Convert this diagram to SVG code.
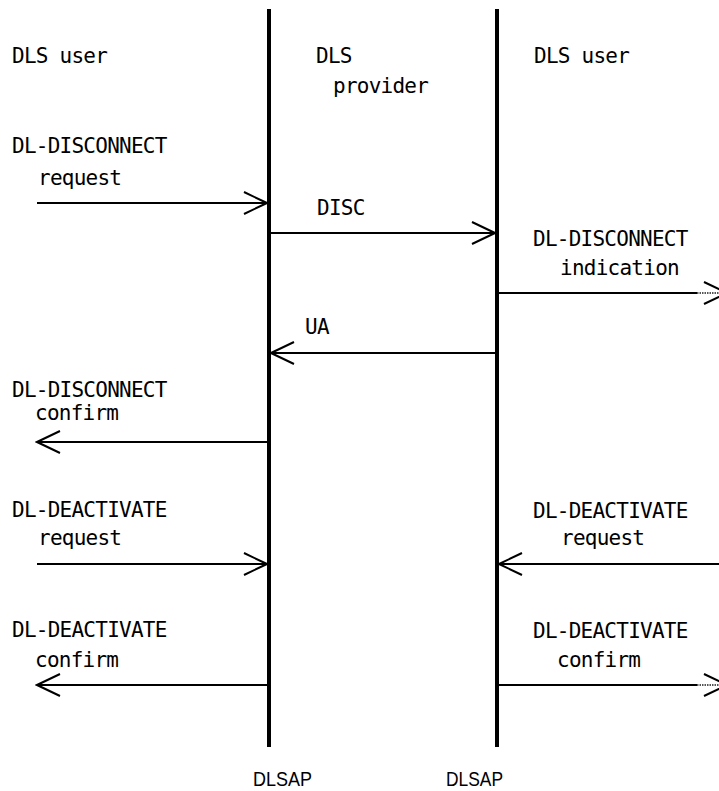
<svg xmlns="http://www.w3.org/2000/svg" width="719" height="791" viewBox="0 0 719 791">
  <style>
    .t { font-family: "DejaVu Sans Mono", "Liberation Mono", monospace; font-size: 21px; letter-spacing: -0.75px; fill: #000; }
    .sap { font-family: "Liberation Sans", Arial, sans-serif; font-size: 21px; fill: #000; }
    .life { stroke: #000; stroke-width: 4; fill: none; }
    .msg { stroke: #000; stroke-width: 2; fill: none; }
    .dot { stroke: #555; stroke-width: 2; stroke-dasharray: 1.5 1; fill: none; }
  </style>
  <defs>
    <marker id="open" viewBox="-24 -12 26 24" markerWidth="26" markerHeight="24" refX="0" refY="0" orient="auto" markerUnits="userSpaceOnUse">
      <path d="M-23,-11 L0,0 L-23,11" fill="none" stroke="#000" stroke-width="2"/>
    </marker>
  </defs>
  <rect width="719" height="791" fill="#fff"/>

  <!-- service access point lifelines -->
  <g id="lifeline-left">
    <line class="life" x1="269" y1="9" x2="269" y2="747"/>
    <text class="sap" x="253" y="786" textLength="59" lengthAdjust="spacingAndGlyphs">DLSAP</text>
  </g>
  <g id="lifeline-right">
    <line class="life" x1="497" y1="9" x2="497" y2="747"/>
    <text class="sap" x="446" y="786" textLength="57" lengthAdjust="spacingAndGlyphs">DLSAP</text>
  </g>

  <!-- column headings -->
  <g id="user-left"><text class="t" x="12" y="63">DLS user</text></g>
  <g id="provider"><text class="t" x="316" y="63">DLS</text><text class="t" x="333" y="93">provider</text></g>
  <g id="user-right"><text class="t" x="534" y="63">DLS user</text></g>

  <!-- primitive labels -->
  <g id="disc-request"><text class="t" x="12" y="153">DL-DISCONNECT</text><text class="t" x="38" y="185">request</text></g>
  <g id="disc-frame"><text class="t" x="317" y="215">DISC</text></g>
  <g id="disc-indication"><text class="t" x="533" y="246">DL-DISCONNECT</text><text class="t" x="560" y="275">indication</text></g>
  <g id="ua-frame"><text class="t" x="305" y="334">UA</text></g>
  <g id="disc-confirm"><text class="t" x="12" y="397">DL-DISCONNECT</text><text class="t" x="35" y="420">confirm</text></g>
  <g id="deact-request-left"><text class="t" x="12" y="517">DL-DEACTIVATE</text><text class="t" x="38" y="545">request</text></g>
  <g id="deact-request-right"><text class="t" x="533" y="518">DL-DEACTIVATE</text><text class="t" x="561" y="545">request</text></g>
  <g id="deact-confirm-left"><text class="t" x="12" y="637">DL-DEACTIVATE</text><text class="t" x="35" y="667">confirm</text></g>
  <g id="deact-confirm-right"><text class="t" x="533" y="638">DL-DEACTIVATE</text><text class="t" x="557" y="667">confirm</text></g>

  <!-- message arrows -->
  <g id="connectors">
    <line class="msg" x1="37" y1="203" x2="267" y2="203" marker-end="url(#open)"/>
    <line class="msg" x1="269" y1="233" x2="495" y2="233" marker-end="url(#open)"/>
    <line class="msg" x1="499" y1="293" x2="697" y2="293"/>
    <line class="dot" x1="697" y1="293" x2="719" y2="293"/>
    <path class="msg" d="M704,282 L727,293 L704,304"/>
    <line class="msg" x1="495" y1="353" x2="271" y2="353" marker-end="url(#open)"/>
    <line class="msg" x1="267" y1="442" x2="37" y2="442" marker-end="url(#open)"/>
    <line class="msg" x1="37" y1="564" x2="267" y2="564" marker-end="url(#open)"/>
    <line class="msg" x1="719" y1="564" x2="499" y2="564" marker-end="url(#open)"/>
    <line class="msg" x1="267" y1="685" x2="37" y2="685" marker-end="url(#open)"/>
    <line class="msg" x1="499" y1="685" x2="697" y2="685"/>
    <line class="dot" x1="697" y1="685" x2="719" y2="685"/>
    <path class="msg" d="M704,674 L727,685 L704,696"/>
  </g>
</svg>
